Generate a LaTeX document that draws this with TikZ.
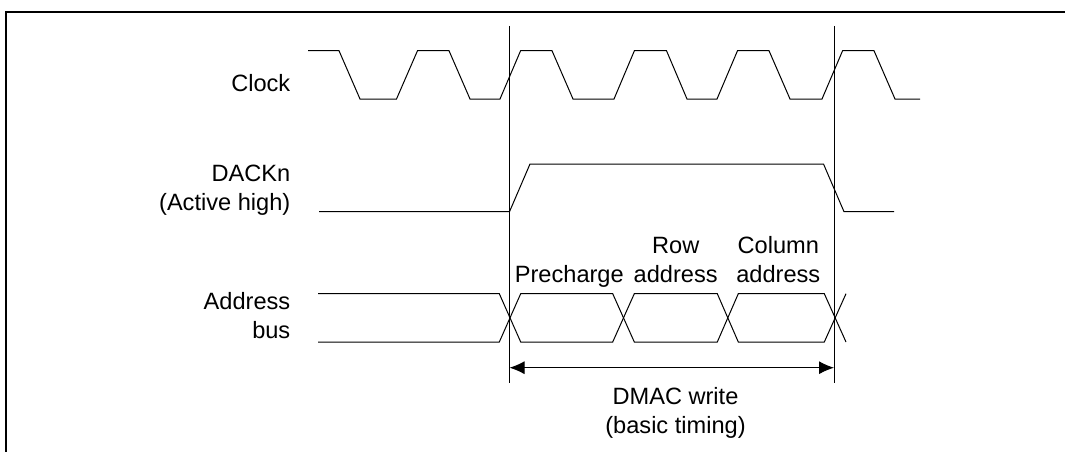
\documentclass[tikz,border=0pt]{standalone}
\usepackage{fontspec}
\setmainfont{Liberation Sans}
\usetikzlibrary{arrows.meta}

\tikzset{
  sigtext/.style={inner sep=0pt,font=\fontsize{23.6}{29}\selectfont,align=#1},
  sigtext/.default=center,
  wave/.style={line width=1pt,line join=miter},
  marker/.style={line width=1pt},
}

\begin{document}
\begin{tikzpicture}[x=1pt,y=-1pt]
  \useasboundingbox (0,0) rectangle (1065,452);
  % open frame, left and top edges only
  \draw[line width=2pt] (6,452) -- (6,12) -- (1065,12);
  % signal names
  \node[sigtext=right,anchor=base east] (clock) at (290.5,92) {Clock};
  \node[sigtext=right,anchor=base east] (dack) at (290.5,210) {DACKn\\(Active high)};
  \node[sigtext=right,anchor=base east] (addr) at (290.5,338) {Address\\bus};
  % phase names above the bus
  \node[sigtext,anchor=base] (pre) at (569.3,282.7) {Precharge};
  \node[sigtext,anchor=base] (row) at (675.7,282.7) {Row\\address};
  \node[sigtext,anchor=base] (col) at (778.3,282.7) {Column\\address};
  \node[sigtext,anchor=base] (dmac) at (675.5,433.7) {DMAC write\\(basic timing)};
  % clock
  \draw[wave] (308,50.7) -- (339,50.7) -- (360,99) -- (396.5,99) -- (417.5,50.7)
    -- (449,50.7) -- (470,99) -- (500,99) -- (520.6,50.7) -- (552,50.7)
    -- (573,99) -- (614,99) -- (634.4,50.7) -- (666.5,50.7) -- (687,99)
    -- (717,99) -- (737.5,50.7) -- (769,50.7) -- (790,99) -- (822,99)
    -- (842.6,50.7) -- (874,50.7) -- (895,99) -- (920,99);
  % DACKn
  \draw[wave] (319,211.7) -- (509.5,211.7) -- (530,164) -- (823.5,164)
    -- (844,211.7) -- (894,211.7);
  % address bus, both rails
  \draw[wave] (318,293.7) -- (499.3,293.7) -- (520.7,342) -- (612.7,342)
    -- (634.3,293.7) -- (717.3,293.7) -- (738.3,342) -- (824.3,342) -- (846,293.7);
  \draw[wave] (318,342) -- (499.3,342) -- (520.7,293.7) -- (612.7,293.7)
    -- (634.3,342) -- (717.3,342) -- (738.3,293.7) -- (824.3,293.7) -- (846,342);
  % limits of the write cycle
  \coordinate (starttop) at (509.5,26);
  \coordinate (startbot) at (509.5,382.7);
  \coordinate (endtop) at (834,26);
  \coordinate (endbot) at (834,382.7);
  \coordinate (startarr) at (509.5,367.7);
  \coordinate (endarr) at (834,367.7);
  \draw[marker] (starttop) -- (startbot);
  \draw[marker] (endtop) -- (endbot);
  \draw[marker,{Latex[length=15pt,width=13pt]}-{Latex[length=15pt,width=13pt]}] (startarr) -- (endarr);
\end{tikzpicture}
\end{document}
